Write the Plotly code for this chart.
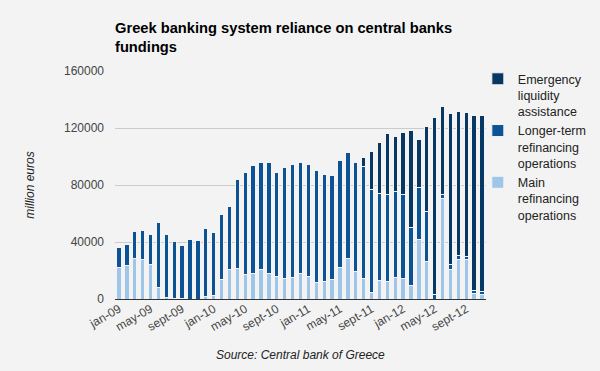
import plotly.graph_objects as go

months = ["jan", "feb", "mar", "apr", "may", "jun", "jul", "aug", "sept", "oct", "nov", "dec"]
categories = [f"{m}-{y:02d}" for y in range(9, 13) for m in months][:47]

main_refinancing = [22300, 23700, 28600, 27900, 24400, 8200, 1200, 700, 700, 0, 0, 1900, 2600,
                    13800, 20900, 21300, 17300, 18000, 20900, 18000, 15900, 14500, 15200, 18000,
                    15900, 11700, 12400, 13800, 22300, 28400, 19500, 14500, 4700, 13100, 12400,
                    15200, 14500, 9600, 41700, 26500, 0, 70600, 20900, 27900, 27900, 4200, 3000]
longer_term = [13600, 14300, 18500, 19900, 20600, 45200, 43800, 39400, 36800, 41500, 40800, 47300,
               43800, 45300, 43800, 62600, 71300, 75500, 74700, 77600, 72700, 77600, 79000, 77600,
               78300, 78300, 74800, 72700, 74700, 74300, 76100, 78800, 72400, 61000, 61000, 60300,
               59100, 40800, 36800, 35100, 3300, 3000, 3000, 2800, 2100, 1900, 2400]
emergency = [0] * 31 + [5900, 26300, 35600, 42600, 38400, 43100, 67700, 33300, 59400, 124000,
                        61400, 106200, 100800, 100800, 122600, 123300]

tick_labels = categories[::4]
y_ticks = [0, 40000, 80000, 120000, 160000]

fig = go.Figure()
fig.add_bar(x=categories, y=main_refinancing, name="Main<br>refinancing<br>operations",
            marker=dict(color="#9fc5e8", line=dict(color="#f3f3f3", width=1)))
fig.add_bar(x=categories, y=longer_term, name="Longer-term<br>refinancing<br>operations",
            marker=dict(color="#0b5394", line=dict(color="#f3f3f3", width=1)))
fig.add_bar(x=categories, y=emergency, name="Emergency<br>liquidity<br>assistance",
            marker=dict(color="#073763", line=dict(color="#f3f3f3", width=1)))

font = "Arial, Liberation Sans, sans-serif"
fig.update_layout(
    width=600, height=371,
    barmode="stack", bargap=0.45,
    paper_bgcolor="#f3f3f3", plot_bgcolor="#f3f3f3",
    margin=dict(l=115, r=114, t=71, b=72, autoexpand=False),
    font=dict(family=font, size=12, color="#444"),
    title=dict(text="<b>Greek banking system reliance on central banks<br>fundings</b>",
               x=115/600, xanchor="left", y=1-33/371, yanchor="top",
               font=dict(family=font, size=14.7, color="#000")),
    showlegend=True,
    legend=dict(x=0.978, xanchor="left", y=1.03, yanchor="top", traceorder="reversed",
                valign="top", bgcolor="rgba(0,0,0,0)",
                font=dict(family=font, size=12.5, color="#222")),
    xaxis=dict(tickvals=tick_labels, ticktext=tick_labels, tickangle=-30,
               ticks="", showgrid=False, automargin=False,
               tickfont=dict(size=12, color="#444")),
    yaxis=dict(range=[0, 160000], tickvals=y_ticks, tickformat="d", showgrid=True, gridcolor="#ccc",
               zeroline=True, zerolinecolor="#333", zerolinewidth=1, automargin=False,
               ticklabelstandoff=10,
               title=dict(text="<i>million euros</i>", font=dict(size=12, color="#222"), standoff=26),
               tickfont=dict(size=12, color="#444")),
    annotations=[dict(text="<i>Source: Central bank of Greece</i>", xref="paper", yref="paper",
                      x=0.5, y=-0.244, xanchor="center", yanchor="middle", showarrow=False,
                      font=dict(size=12, color="#222"))],
)
fig.write_html("out.html", config={"displayModeBar": False},
               post_script="document.body.style.margin='0';")
